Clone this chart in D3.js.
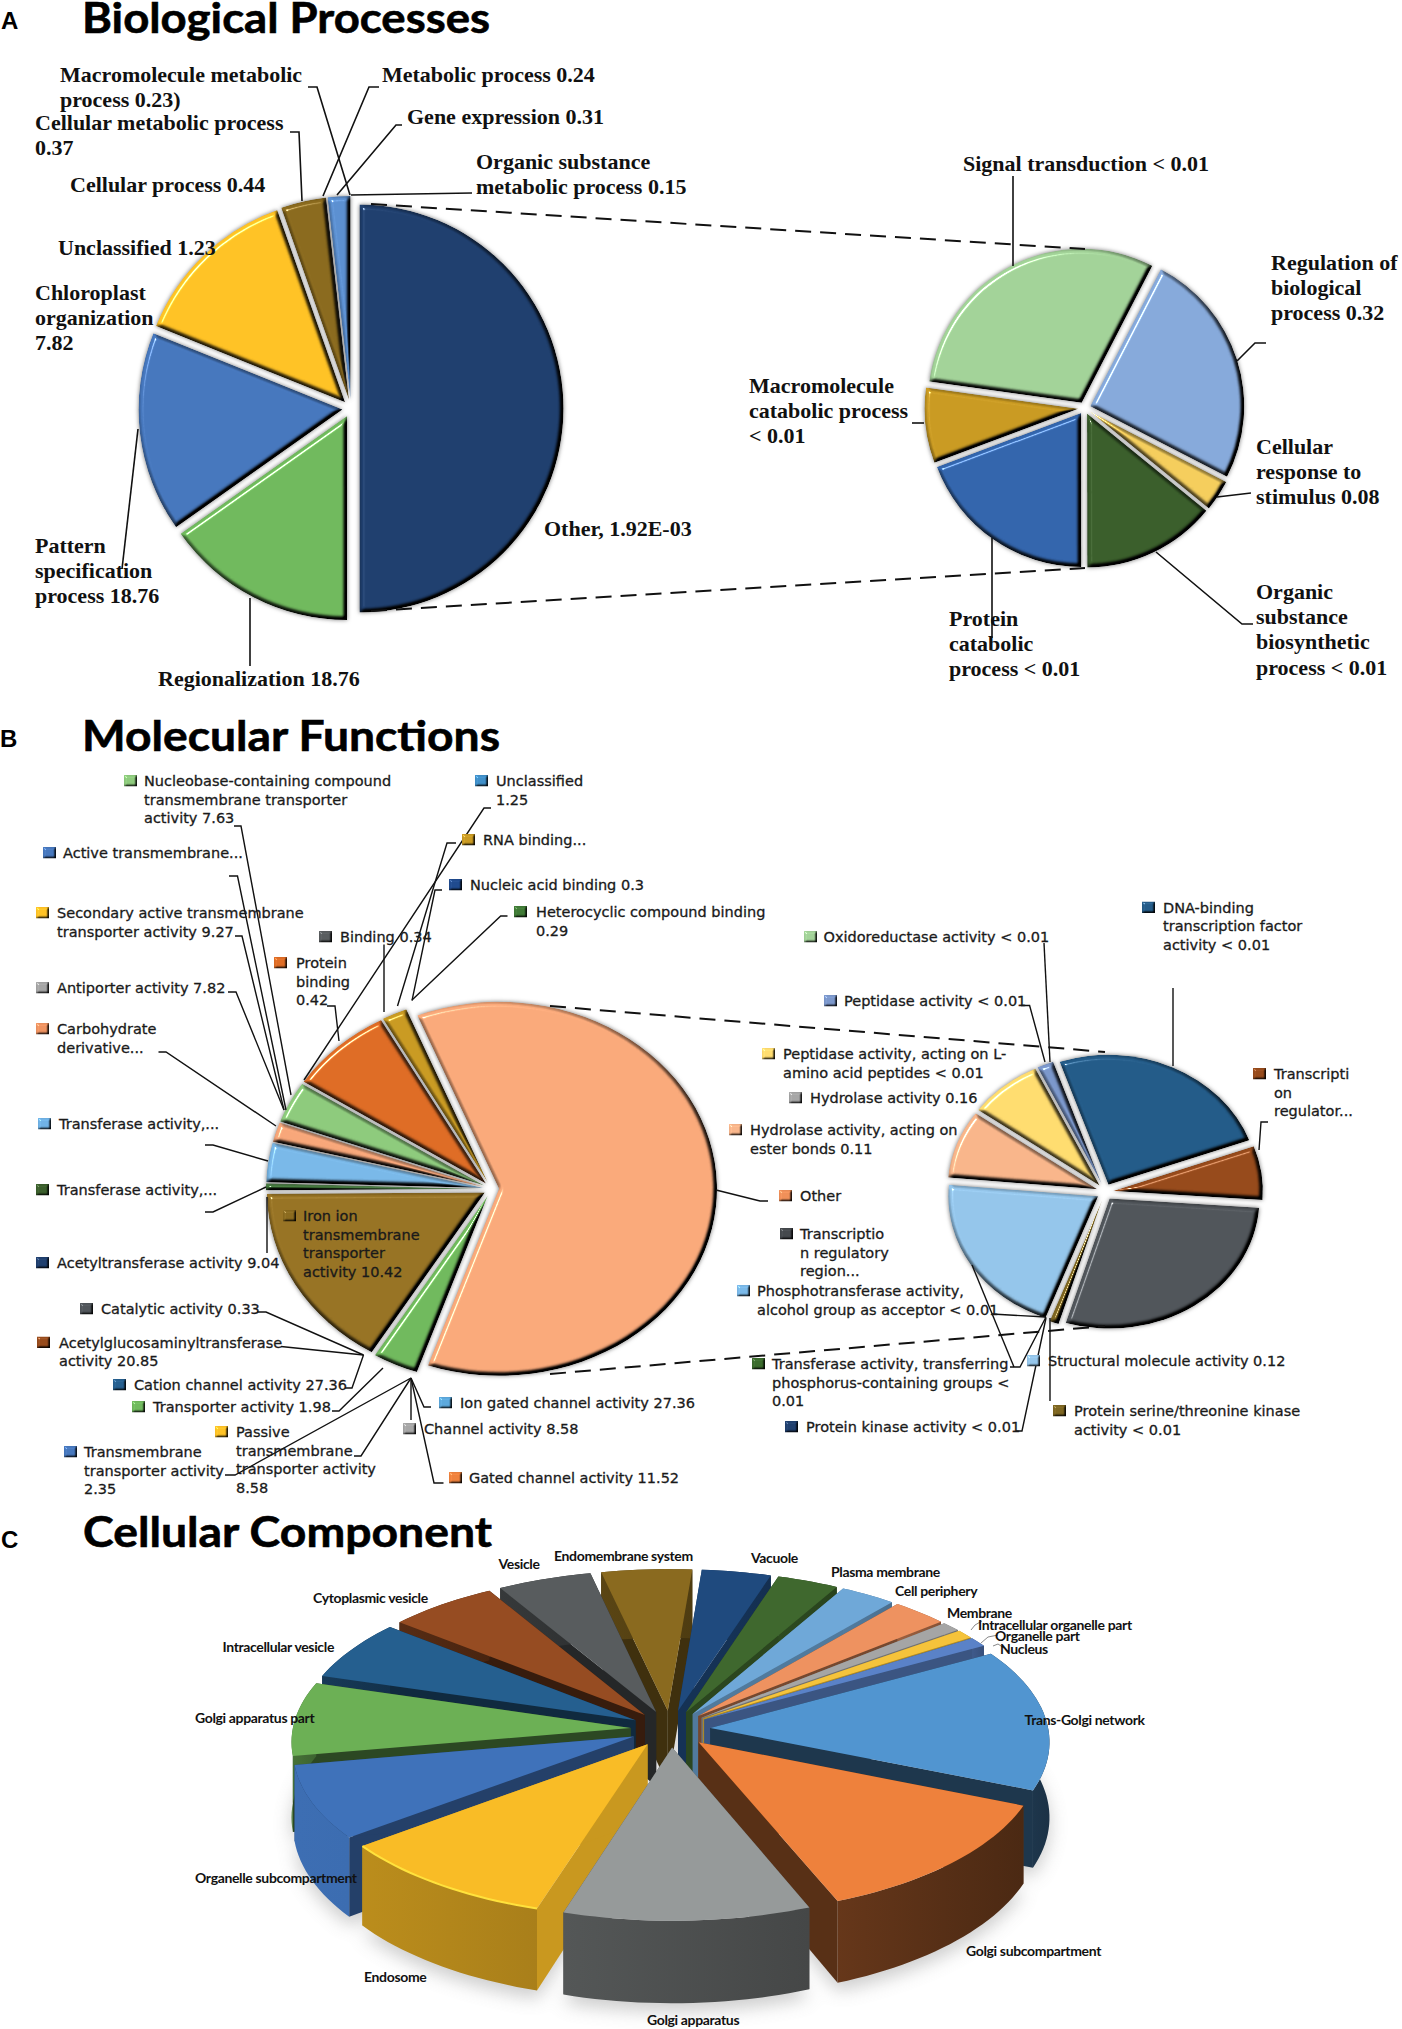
<!DOCTYPE html>
<html><head><meta charset="utf-8">
<script src="https://cdn.jsdelivr.net/npm/d3@7"></script>
<style>
html,body{margin:0;padding:0;background:#fff}
svg{display:block}
.ser{font-family:"Liberation Serif",serif;font-weight:700;font-size:22px;fill:#111}
.sans{font-family:"DejaVu Sans",sans-serif;font-size:14.5px;fill:#1a1a1a;stroke:#1a1a1a;stroke-width:.3px}
.nar{font-family:"Lato",sans-serif;font-weight:700;font-size:14px;letter-spacing:-.35px;fill:#111}
.ttl{font-family:Lato,sans-serif;font-weight:700;font-size:42px;fill:#000;stroke:#000;stroke-width:.6px}
.let{font-family:"Liberation Sans",sans-serif;font-weight:700;font-size:24px;fill:#000}
.lead{fill:none;stroke:#111;stroke-width:1.6px}
.lead2{fill:none;stroke:#111;stroke-width:1.4px}
.dash{fill:none;stroke:#111;stroke-width:2px;stroke-dasharray:16 9}
</style></head><body>
<script>
/* ---------- DATA: panel A, main pie ---------- */
const bpMainNames=["Other","Regionalization","Pattern specification process","Chloroplast organization","Cellular process group","Gene expression group"];
const bpMainShares=[50,15.2,15.9,13.5,3.6,1.8];
const bpMainColors=["#1f3f6e","#70b95d","#4677bd","#ffc225","#8a6a1e","#5b8fd0"];
/* panel A, sub pie */
const bpSubNames=["Regulation of biological process","Cellular response to stimulus","Organic substance biosynthetic process","Protein catabolic process","Macromolecule catabolic process","Signal transduction"];
const bpSubShares=[25,3.3,14.1,19.3,7.9,30.4];
const bpSubColors=["#86a9da","#f4cd5c","#3a5e2b","#3365ac","#c99a22","#a2d298"];
/* panel B, main pie */
const mfMainNames=["Other","Transporter activity","Iron ion transmembrane transporter activity","Transferase activity A","Transferase activity B","Carbohydrate derivative","Nucleobase-containing compound","Protein binding","RNA binding"];
const mfMainShares=[61.4,3.4,16.2,0.6,3.4,1.7,3.6,7.8,1.9];
const mfMainColors=["#f9a97a","#70b95d","#977324","#41793a","#79b8e8","#f7a679","#8dca7c","#de6c25","#c99a22"];
/* panel B, sub pie */
const mfSubNames=["DNA-binding transcription factor activity","Transcription regulator","Transcription regulatory region","Protein serine/threonine kinase","Phosphotransferase","Hydrolase ester bonds","Peptidase L-amino","Peptidase activity"];
const mfSubShares=[24.7,6.7,28.6,1,20.7,8.5,8,1.8];
const mfSubColors=["#235b88","#964a1b","#50555a","#7d6520","#94c5ea","#f8b58a","#ffdc6f","#7b97cb"];
/* panel C */
const ccNames=["Vacuole","Plasma membrane","Cell periphery","Membrane","Intracellular organelle part","Organelle part","Nucleus","Trans-Golgi network","Golgi subcompartment","Golgi apparatus","Endosome","Organelle subcompartment","Golgi apparatus part","Intracellular vesicle","Cytoplasmic vesicle","Vesicle","Endomembrane system"];
const ccShares=[3.6,3.2,2.9,2.9,1,0.9,1,14.6,12.6,10.8,9.8,7.6,7.6,6.2,5.7,4.9,4.7];
const ccColors=["#1f4a7e","#3f682e","#6fa8d8","#ee9260","#a5a5a5","#f5c33b","#5a82c8","#5195d0","#ee813c","#969a9a","#f9bc26","#3f72ba","#6cb055","#255f8f","#964c22","#585c5e","#8a6a1f"];

/* ---------- TEXT ---------- */
const titles=["Biological Processes","Molecular Functions","Cellular Component"];
const panelLetters=["A","B","C"];
const bpTexts=["Macromolecule metabolic\nprocess 0.23)","Cellular metabolic process\n0.37","Cellular process 0.44","Unclassified 1.23","Chloroplast\norganization\n7.82","Pattern\nspecification\nprocess 18.76","Regionalization 18.76","Other, 1.92E-03","Metabolic process 0.24","Gene expression 0.31","Organic substance\nmetabolic process 0.15","Signal transduction < 0.01","Regulation of\nbiological\nprocess 0.32","Macromolecule\ncatabolic process\n< 0.01","Cellular\nresponse to\nstimulus 0.08","Organic\nsubstance\nbiosynthetic\nprocess < 0.01","Protein\ncatabolic\nprocess < 0.01"];
const mfTexts=["Nucleobase-containing compound\ntransmembrane transporter\nactivity 7.63","Unclassified\n1.25","Active transmembrane...","RNA binding...","Nucleic acid binding 0.3","Secondary active transmembrane\ntransporter activity 9.27","Heterocyclic compound binding\n0.29","Binding 0.34","Protein\nbinding\n0.42","Antiporter activity 7.82","Carbohydrate\nderivative...","Transferase activity,...","Transferase activity,...","Iron ion\ntransmembrane\ntransporter\nactivity 10.42","Acetyltransferase activity 9.04","Catalytic activity 0.33","Acetylglucosaminyltransferase\nactivity 20.85","Cation channel activity 27.36","Transporter activity 1.98","Passive\ntransmembrane\ntransporter activity\n8.58","Transmembrane\ntransporter activity\n2.35","Ion gated channel activity 27.36","Channel activity 8.58","Gated channel activity 11.52","Oxidoreductase activity < 0.01","DNA-binding\ntranscription factor\nactivity < 0.01","Peptidase activity < 0.01","Transcripti\non\nregulator...","Peptidase activity, acting on L-\namino acid peptides < 0.01","Hydrolase activity 0.16","Hydrolase activity, acting on\nester bonds 0.11","Other","Transcriptio\nn regulatory\nregion...","Phosphotransferase activity,\nalcohol group as acceptor < 0.01","Transferase activity, transferring\nphosphorus-containing groups <\n0.01","Structural molecule activity 0.12","Protein kinase activity < 0.01","Protein serine/threonine kinase\nactivity < 0.01"];
const mfKeyColors=["#8dca7c","#3f8fc9","#4677bd","#c99a22","#1f4a8e","#ffc225","#3f7a35","#585c5e","#de6c25","#a5a5a5","#ee9260","#6fb2e6","#3a5e2b","#8a6a1e","#1f3f6e","#50555a","#964a1b","#255f8f","#70b95d","#ffc225","#4677bd","#5ba8dc","#a5a5a5","#ee813c","#a2d298","#235b88","#7b97cb","#964a1b","#ffdc6f","#a5a5a5","#f8b58a","#f08f58","#44484c","#79b8e8","#3a6b2c","#94c5ea","#1f3f6e","#7d6520"];

/* ---------- LAYOUT (not data) ---------- */
const W=1402,H=2029;
const titleLayout=[{x:82,y:33,w:408},{x:82,y:751,w:418},{x:83,y:1547,w:409}];
const letterLayout=[{x:1,y:29},{x:0,y:747},{x:1,y:1548}];
const bpPos=[[60,82],[35,130],[70,192],[58,255],[35,300],[35,553],[158,686],[544,536],[382,82],[407,124],[476,169],[963,171],[1271,270],[749,393],[1256,454],[1256,599],[949,626]];
const bpGap=25.2;
const mfPos=[[124,144,786],[475,496,786],[43,63,858],[462,483,845],[449,470,890],[36,57,918],[514,536,917],[319,340,942],[274,296,968],[36,57,993],[36,57,1034],[38,59,1129],[36,57,1195],[283,303,1221],[36,57,1268],[80,101,1314],[37,59,1347.5],[113,134,1390],[132,153,1412],[215,236,1437],[64,84,1457],[439,460,1408],[403,424,1434],[449,469,1483],[804,823.5,942],[1142,1163,912.5],[824,844,1006],[1253,1274,1079],[762,783,1059],[789,810,1103],[729,750,1135],[779,800,1201],[780,800,1239],[737,757,1296],[752,772,1369],[1027,1048,1366],[785,806,1432],[1053,1074,1416]];
const mfGap=18.6;
const ccPos=[[751,1563],[831,1576.6],[895,1595.5],[947,1618],[978,1629.6],[995,1640.7],[1000,1654],[1024.5,1725],[966,1956],[647,2025],[364,1982],[195,1883],[195,1722.7],[222.5,1652],[313,1603],[498.5,1569],[554,1561]];
const bpLeaders=[[[308,87],[317,87],[350,195]],[[379,87],[369,87],[323,196]],[[402,125],[396,125],[337,195]],[[472,193],[351,195]],[[290,132],[299,132],[302,201]],[[138,429],[122,569]],[[250,598],[250,666]],[[1013,176],[1013,266]],[[1266,343],[1255,343],[1237,361]],[[912,423],[924,423]],[[1251,493],[1217,497]],[[1253,624],[1242,624],[1156,552]],[[992,538],[992,638]]];
const mfLeaders=[[[234,826],[241,826],[291,1095]],[[229,876],[237.5,876],[286,1110]],[[235,936],[242,936],[284,1110]],[[228,992],[236,992],[284,1110]],[[158.5,1052],[166,1052],[276,1126]],[[205,1145],[213,1145],[268,1161]],[[205,1212],[213,1212],[266,1187]],[[267,1197],[267,1253]],[[257,1312],[266,1312],[363.5,1355]],[[281,1346.5],[363.5,1355]],[[345,1388],[352,1388],[363.5,1355]],[[332,1411],[339,1411],[383,1368]],[[354,1456],[361,1456],[411,1378]],[[225,1475],[235,1475],[411,1378]],[[431,1407],[424,1407],[411,1378]],[[411,1378],[411,1420]],[[443.5,1483],[434,1483],[411,1378]],[[327,1006],[335,1006],[339,1041]],[[384,944.5],[384,1012]],[[491,808],[484,808],[304,1080]],[[456,843],[447,843],[397.5,1006]],[[442,890],[435,890],[412,1000.6]],[[507.5,916],[500.7,916],[412,1000]],[[716,1190],[760,1201],[768,1201]],[[1044,943],[1050,1062]],[[1021,1005.5],[1029.6,1005.5],[1045,1062]],[[1173,988],[1173,1066]],[[1268,1122],[1261,1122],[1259,1150]],[[992,1314],[1046,1317]],[[972,1265],[1014,1367]],[[1010,1367],[1020,1367],[1046,1317]],[[1016,1431],[1022,1431],[1046,1318]],[[1050,1318],[1050,1401]]];
const dashes=[[[371,204],[1085,249]],[[371,611],[1085,568]],[[550,1006],[1105,1052]],[[550,1374],[1105,1326]]];
const ccLeaders=[[[982,1621],[975,1625],[971,1630]],[[998,1635],[988,1637],[981,1643]],[[1004,1648],[998,1644],[993,1646]]];

const svg=d3.select("body").append("svg").attr("width",W).attr("height",H).attr("viewBox",`0 0 ${W} ${H}`);
const defs=svg.append("defs");

function bevel(id,blur,scale,shadow){
  const f=defs.append("filter").attr("id",id).attr("x","-30%").attr("y","-30%").attr("width","160%").attr("height","160%").attr("color-interpolation-filters","sRGB");
  f.append("feGaussianBlur").attr("in","SourceAlpha").attr("stdDeviation",blur).attr("result","b");
  const d=f.append("feDiffuseLighting").attr("in","b").attr("surfaceScale",scale).attr("diffuseConstant",1/Math.sin(55*Math.PI/180)).attr("lighting-color","#fff").attr("result","dl");
  d.append("feDistantLight").attr("azimuth",225).attr("elevation",55);
  f.append("feComposite").attr("in","dl").attr("in2","SourceGraphic").attr("operator","arithmetic").attr("k1",1).attr("k2",0).attr("k3",0).attr("k4",0).attr("result","lit");
  const s=f.append("feSpecularLighting").attr("in","b").attr("surfaceScale",scale).attr("specularConstant",.9).attr("specularExponent",40).attr("lighting-color","#fff").attr("result","sp");
  s.append("feDistantLight").attr("azimuth",225).attr("elevation",30);
  f.append("feComposite").attr("in","lit").attr("in2","sp").attr("operator","arithmetic").attr("k1",0).attr("k2",1).attr("k3",1).attr("k4",0).attr("result","sum");
  f.append("feComposite").attr("in","sum").attr("in2","SourceAlpha").attr("operator","in").attr("result","face");
  if(shadow){
    f.append("feGaussianBlur").attr("in","SourceAlpha").attr("stdDeviation",shadow).attr("result","sb");
    f.append("feFlood").attr("flood-color","#777").attr("flood-opacity",.95).attr("result","fc");
    f.append("feComposite").attr("in","fc").attr("in2","sb").attr("operator","in").attr("result","sh");
    const m=f.append("feMerge");m.append("feMergeNode").attr("in","sh");m.append("feMergeNode").attr("in","face");
  }
}
bevel("bev",2.2,7,2);
bevel("bevSmall",.8,2.5,0);
defs.append("filter").attr("id","soft").attr("x","-20%").attr("y","-20%").attr("width","140%").attr("height","140%").append("feGaussianBlur").attr("stdDeviation",9);

function flatPie(shares,colors,names,o){
  const R=100, g=svg.append("g");
  const arcs=d3.pie().sort(null).value(d=>d).startAngle(o.start*Math.PI/180).endAngle((o.start+360)*Math.PI/180)(shares);
  const arc=d3.arc().innerRadius(0).outerRadius(R);
  arcs.forEach((a,i)=>{
    const m=(a.startAngle+a.endAngle)/2, e=(o.explode&&o.explode[i]!=null)?o.explode[i]:o.e;
    g.append("g").attr("filter","url(#bev)").append("path")
      .attr("d",arc(a)).attr("fill",colors[i])
      .attr("transform",`translate(${o.cx+e*Math.sin(m)},${o.cy-e*Math.cos(m)}) scale(${o.rx/R},${o.ry/R})`)
      .append("title").text(names[i]);
  });
}
flatPie(bpMainShares,bpMainColors,bpMainNames,{start:0,cx:351,cy:408.5,rx:204,ry:204,e:8.5});
flatPie(bpSubShares,bpSubColors,bpSubNames,{start:27.3,cx:1084.5,cy:408,rx:154,ry:154,e:6});
flatPie(mfMainShares,mfMainColors,mfMainNames,{start:338,cx:491,cy:1189,rx:218,ry:187,e:7,explode:[8]});
flatPie(mfSubShares,mfSubColors,mfSubNames,{start:341,cx:1105,cy:1192,rx:150,ry:130,e:8});

/* ---------- 3-D pie, panel C ---------- */
(function(){
  const cx=670.5,cy=1729,Rx=338,Ry=156,D=75,p=.081,e=.118;
  const wallK=[1.1,1.1,1,1.4,1,1,1.2,2.7,2.8,1.9,.95,.12,1.4,1.6,1.8,1.6,1.4];
  const radK =[1.1,1.1,.9,2,1,1,1.2,2.8,2.8,1.9,.6,1.6,2.5,2.3,2.8,2.4,2.2];
  const line=d3.line();
  const proj=(u,v,z)=>{const s=1/(1-p*v);return [cx+Rx*u*s,cy+Ry*v*s+z*D*s];};
  const arcs=d3.pie().sort(null).value(d=>d).startAngle(4.5*Math.PI/180).endAngle((364.5)*Math.PI/180)(ccShares);
  const slices=arcs.map((a,i)=>{
    const m=(a.startAngle+a.endAngle)/2, ou=e*Math.sin(m), ov=-e*Math.cos(m);
    const n=Math.max(3,Math.ceil((a.endAngle-a.startAngle)/.03));
    const t=d3.range(n+1).map(k=>a.startAngle+(a.endAngle-a.startAngle)*k/n);
    const rim=t.map(th=>[ou+Math.sin(th),ov-Math.cos(th)]);
    return {i,m,tip:[ou,ov],rim,v:ov-Math.cos(m)*.6};
  });
  const shadow=svg.append("g").attr("filter","url(#soft)").attr("opacity",.45).attr("transform","translate(0,8)");
  slices.forEach(s=>shadow.append("path").attr("fill","#8e8e8e").attr("d",line([[...s.tip],...s.rim].map(q=>proj(q[0],q[1],1)))+"Z"));
  const g=svg.append("g");
  slices.slice().sort((a,b)=>a.v-b.v).forEach(s=>{
    const c=d3.color(ccColors[s.i]);
    const rad=c.darker(radK[s.i]).formatHex();
    const gid="wall"+s.i;
    const gr=defs.append("linearGradient").attr("id",gid);
    gr.append("stop").attr("offset","0").attr("stop-color",c.darker(wallK[s.i]*.85).formatHex());
    gr.append("stop").attr("offset","1").attr("stop-color",c.darker(wallK[s.i]*1.15).formatHex());
    const a=s.rim[0],b=s.rim[s.rim.length-1];
    const quad=(P,Q)=>line([proj(P[0],P[1],0),proj(Q[0],Q[1],0),proj(Q[0],Q[1],1),proj(P[0],P[1],1)])+"Z";
    g.append("path").attr("d",quad(s.tip,a)).attr("fill",rad);
    g.append("path").attr("d",quad(s.tip,b)).attr("fill",rad);
    const strip=[...s.rim.map(q=>proj(q[0],q[1],0)),...s.rim.slice().reverse().map(q=>proj(q[0],q[1],1))];
    g.append("path").attr("d",line(strip)+"Z").attr("fill",`url(#${gid})`);
    g.append("path").attr("d",line([s.tip,...s.rim].map(q=>proj(q[0],q[1],0)))+"Z").attr("fill",c.formatHex()).append("title").text(ccNames[s.i]);
    if(ccNames[s.i]==="Endosome") g.append("path").attr("d",line(s.rim.map(q=>proj(q[0],q[1],0)))).attr("fill","none").attr("stroke","#ffe23c").attr("stroke-width",2);
  });
})();

/* ---------- leaders ---------- */
const pl=d3.line();
const lay=svg.append("g");
dashes.forEach(d=>lay.append("path").attr("class","dash").attr("d",pl(d)));
bpLeaders.forEach(d=>lay.append("path").attr("class","lead").attr("d",pl(d)));
mfLeaders.forEach(d=>lay.append("path").attr("class","lead2").attr("d",pl(d)));
ccLeaders.forEach(d=>lay.append("path").attr("d",pl(d)).attr("fill","none").attr("stroke","#888").attr("stroke-width",1));

/* ---------- text ---------- */
function multi(cls,str,x,y,gap){
  const t=svg.append("text").attr("class",cls).attr("x",x).attr("y",y);
  str.split("\n").forEach((l,i)=>t.append("tspan").attr("x",x).attr("y",y+i*gap).text(l));
}
bpTexts.forEach((s,i)=>multi("ser",s,bpPos[i][0],bpPos[i][1],bpGap));
mfTexts.forEach((s,i)=>{
  const [kx,tx,y]=mfPos[i];
  svg.append("g").attr("filter","url(#bevSmall)").append("rect").attr("x",kx).attr("y",y-11).attr("width",13).attr("height",11.5).attr("fill",mfKeyColors[i]);
  multi("sans",s,tx,y,mfGap);
});
ccNames.forEach((s,i)=>svg.append("text").attr("class","nar").attr("x",ccPos[i][0]).attr("y",ccPos[i][1]).text(s));
titles.forEach((s,i)=>svg.append("text").attr("class","ttl").attr("x",titleLayout[i].x).attr("y",titleLayout[i].y).attr("textLength",titleLayout[i].w).attr("lengthAdjust","spacingAndGlyphs").text(s));
panelLetters.forEach((s,i)=>svg.append("text").attr("class","let").attr("x",letterLayout[i].x).attr("y",letterLayout[i].y).text(s));
</script>
</body></html>
